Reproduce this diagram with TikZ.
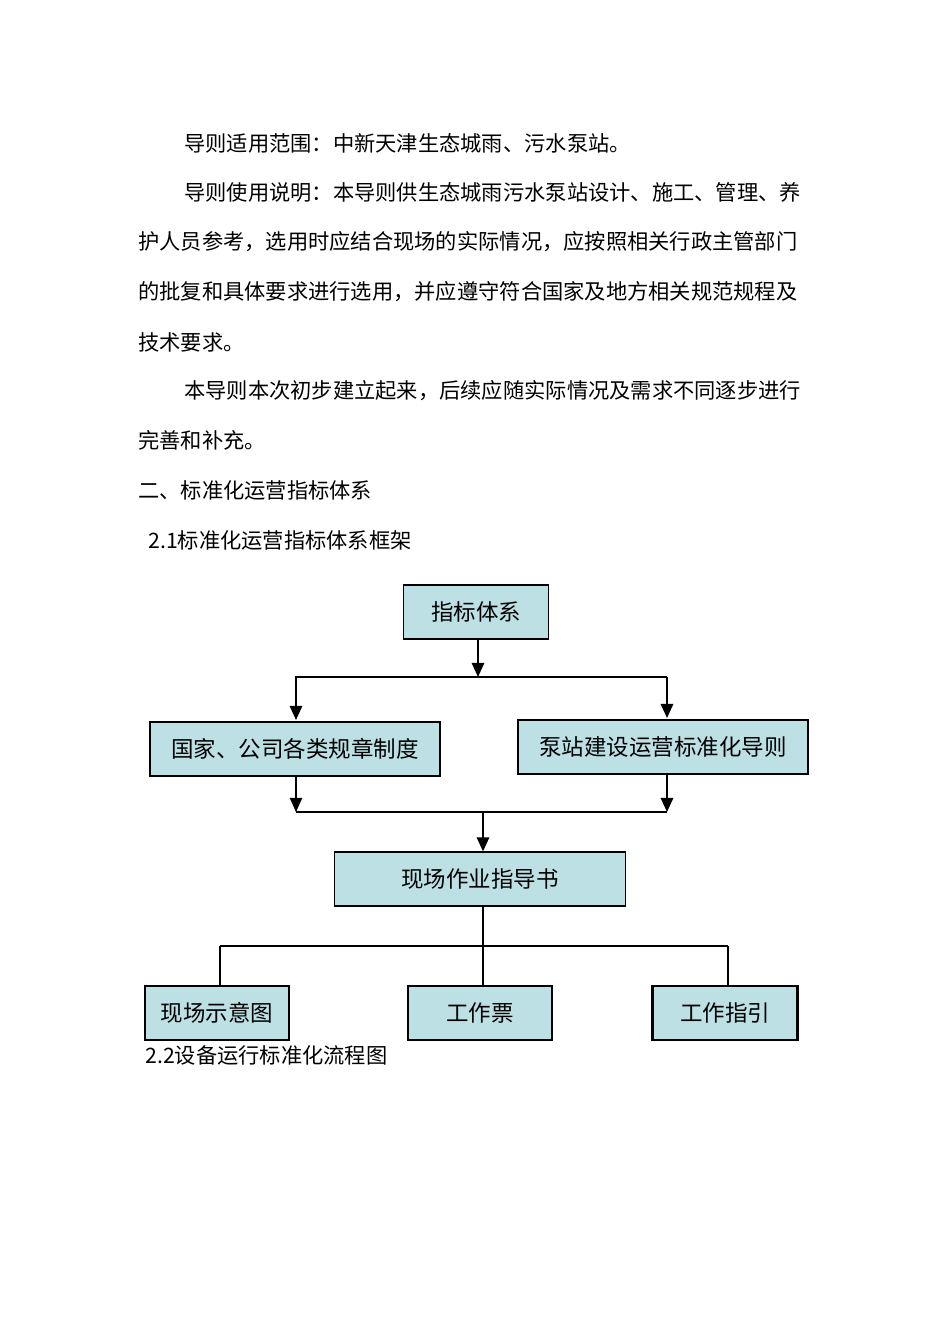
\documentclass[tikz,border=0pt]{standalone}
\usepackage{fontspec}
\setmainfont{Noto Sans CJK SC}
\usetikzlibrary{arrows.meta}
\definecolor{boxc}{HTML}{BCE0E4}
\begin{document}
\begin{tikzpicture}[x=0.02cm,y=-0.02cm,
  txt/.style={anchor=west,inner sep=0,font=\fontsize{12.1}{14}\selectfont},
  bx/.style={draw,fill=boxc,line width=0.7pt,font=\fontsize{12.8}{15}\selectfont,inner sep=0,minimum height=1.08cm},
  thk/.style={line width=1.5pt},
  ln/.style={line width=1.2pt},
  thin/.style={line width=0.6pt},
  ar/.style={line width=1.2pt,-{Triangle[length=8pt,width=7pt]}}]
\useasboundingbox (0,0) rectangle (950,1344);
\node[txt] (t1) at (184,143) {导则适用范围：中新天津生态城雨、污水泵站。};
\node[txt] (t2) at (184,192) {导则使用说明：本导则供生态城雨污水泵站设计、施工、管理、养};
\node[txt] (t3) at (138,242) {护人员参考，选用时应结合现场的实际情况，应按照相关行政主管部门};
\node[txt] (t4) at (138,292) {的批复和具体要求进行选用，并应遵守符合国家及地方相关规范规程及};
\node[txt] (t5) at (138,342) {技术要求。};
\node[txt] (t6) at (184,391) {本导则本次初步建立起来，后续应随实际情况及需求不同逐步进行};
\node[txt] (t7) at (138,440) {完善和补充。};
\node[txt] (t8) at (138,490) {二、标准化运营指标体系};
\node[txt] (t9) at (148,540) {2.1标准化运营指标体系框架};
\node[txt] (t10) at (145,1055) {2.2设备运行标准化流程图};
% boxes
\node[bx,minimum width=2.9cm] (a) at (476,612) {指标体系};
\node[bx,minimum width=5.8cm] (b) at (295,749) {国家、公司各类规章制度};
\node[bx,thk,minimum width=5.8cm] (c) at (663,747) {泵站建设运营标准化导则};
\node[bx,minimum width=5.82cm] (d) at (480,879) {现场作业指导书};
\node[bx,thk,minimum width=2.88cm] (e) at (217,1013) {现场示意图};
\node[bx,minimum width=2.88cm] (f) at (480,1013) {工作票};
\node[bx,thk,minimum width=2.9cm] (g) at (725,1013) {工作指引};
% connectors
\coordinate (s1) at (478,677);
\coordinate (s2) at (483,812);
\coordinate (s3) at (483,946);
\draw[ar] (a.south -| s1) -- (s1);
\draw[ln] (s1 -| b.south) -- (s1 -| 667,0);
\draw[ar] (s1 -| 296,0) -- (296,720);
\draw[ar] (s1 -| 667,0) -- (667,718);
\draw[ar,thin] (296,776) -- (296,812);
\draw[ar] (667,775) -- (667,812);
\draw[ln] (296,812) -- (667,812);
\draw[ar] (s2) -- (s2 |- d.north);
\draw[thin] (d.south -| s3) -- (s3 |- f.north);
\draw[thk] (220,946) -- (728,946);
\draw[thk] (220,946) -- (220,986);
\draw[thin] (728,946) -- (728,986);
\end{tikzpicture}
\end{document}
